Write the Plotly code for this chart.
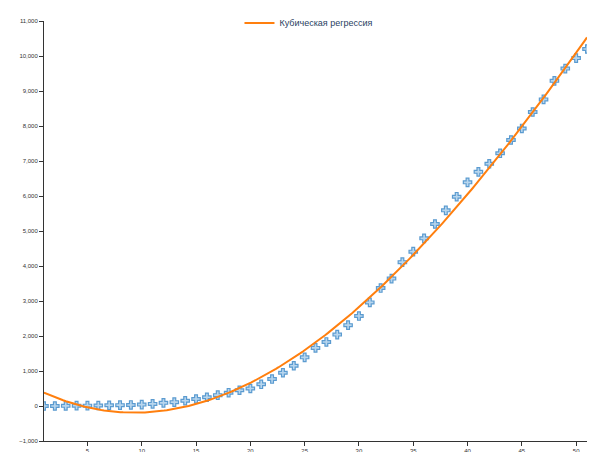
import numpy as np
import plotly.graph_objects as go

x = list(range(1, 52))
y = [0, 0, 5, 10, 10, 15, 20, 25, 30, 40, 60, 90, 110, 150, 200, 250, 310, 380, 450,
     500, 620, 770, 950, 1150, 1390, 1660, 1830, 2040, 2310, 2570, 2960, 3370, 3640,
     4110, 4410, 4790, 5200, 5590, 5980, 6390, 6690, 6920, 7220, 7600, 7930, 8400,
     8760, 9290, 9640, 9940, 10200]

coef = np.polyfit(x, y, 3)
xf = np.linspace(1, 51, 200)
yf = np.polyval(coef, xf)

fig = go.Figure()
fig.add_trace(go.Scatter(x=x, y=y, mode="markers", name="y",
    marker=dict(symbol="cross", size=7, color="#b8d6ee", line=dict(color="#5b9bd0", width=1.2)),
    legend="legend"))
fig.add_trace(go.Scatter(x=xf, y=yf, mode="lines", name="Кубическая регрессия",
    line=dict(color="#ff7f0e", width=2), legend="legend2"))

axis = dict(showgrid=False, zeroline=False, showline=True, linecolor="#333", linewidth=1,
            ticks="outside", ticklen=4, tickcolor="#333", tickfont=dict(size=6, color="#333"))
fig.update_layout(
    width=602, height=452, paper_bgcolor="white", plot_bgcolor="white",
    margin=dict(l=36, r=23, t=13, b=19, autoexpand=False),
    font=dict(family="Arial, Liberation Sans, sans-serif"),
    xaxis=dict(range=[1, 51], tickvals=[5, 10, 15, 20, 25, 30, 35, 40, 45, 50], **axis),
    yaxis=dict(range=[-1000, 11000], dtick=1000, tickformat=",d", **axis),
    legend=dict(x=-0.07, y=1.035, xanchor="left", yanchor="top",
                title=dict(text="Результат", side="top", font=dict(size=8)),
                font=dict(size=9), bgcolor="rgba(0,0,0,0)", itemsizing="constant"),
    legend2=dict(x=0.36, y=1.03, xanchor="left", yanchor="top", font=dict(size=9),
                 bgcolor="rgba(0,0,0,0)"),
)
fig.write_html("out.html")
